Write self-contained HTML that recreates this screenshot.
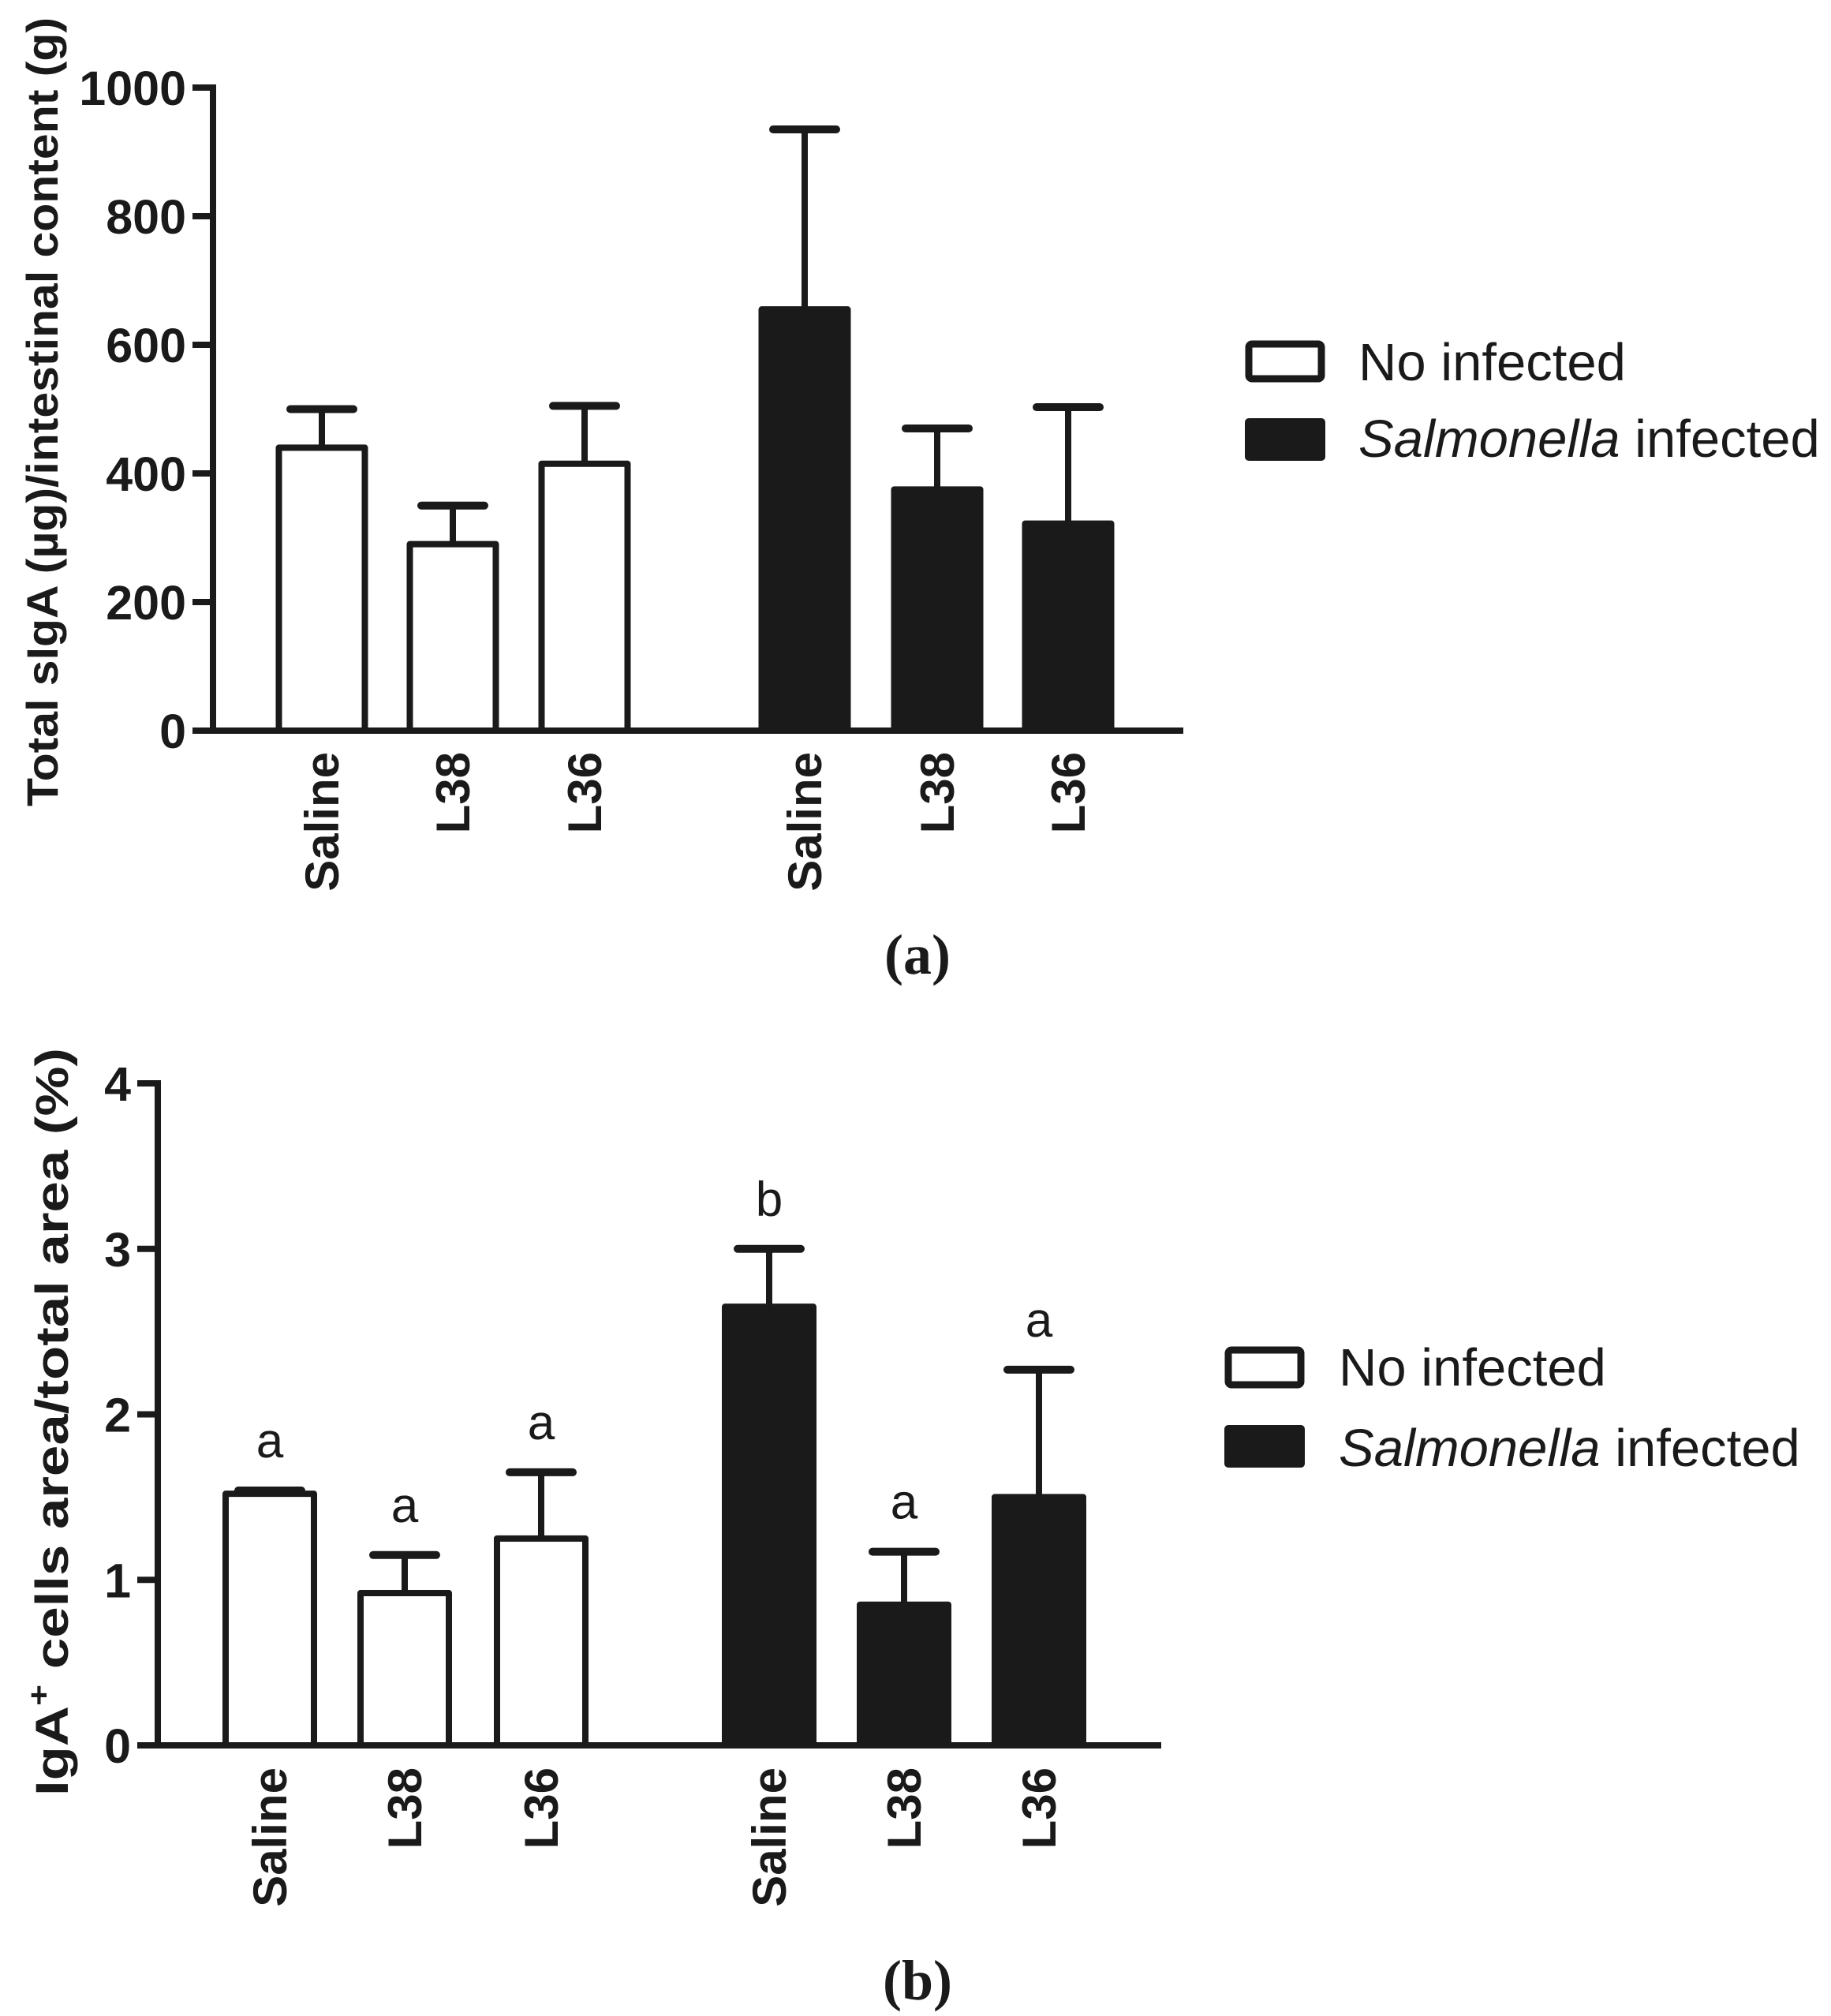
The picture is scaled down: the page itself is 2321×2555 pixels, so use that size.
<!DOCTYPE html>
<html><head><meta charset="utf-8"><style>
html,body{margin:0;padding:0;background:#fff;}
svg{display:block;}
text{fill:#1a1a1a;}
</style></head><body>
<svg id="fig" width="2321" height="2555" viewBox="0 0 2321 2555" xmlns="http://www.w3.org/2000/svg">
<g id="chartA"></g>
<g id="chartB"></g>
</svg>
<script>
const categories = ["Saline","L38","L36","Saline","L38","L36"];
const groups = ["no","no","no","inf","inf","inf"];
const valuesA = [440, 290, 415, 655, 375, 322];
const errTopA = [500, 350, 505, 935, 470, 503];
const ticksA = [0, 200, 400, 600, 800, 1000];
const valuesB = [1.52, 0.92, 1.25, 2.65, 0.85, 1.50];
const errTopB = [1.54, 1.15, 1.65, 3.00, 1.17, 2.27];
const lettersB = ["a","a","a","b","a","a"];
const ticksB = [0, 1, 2, 3, 4];

const NS = "http://www.w3.org/2000/svg";
function mk(parent, tag, attrs, txt){
  const e = document.createElementNS(NS, tag);
  for (const k in attrs) e.setAttribute(k, attrs[k]);
  if (txt !== undefined) e.textContent = txt;
  parent.appendChild(e);
  return e;
}

function drawChart(g, cfg){
  const y = v => cfg.y0 + (cfg.y1 - cfg.y0) * (v - cfg.vmin) / (cfg.vmax - cfg.vmin);
  const lw = 8;
  cfg.values.forEach((v, i) => {
    const cx = cfg.centers[i];
    const filled = groups[i] === "inf";
    const eb = mk(g, "line", {x1:cx, x2:cx, y1:y(v), y2:y(cfg.err[i]), stroke:"#1a1a1a", "stroke-width":lw});
    
    
    const cap = mk(g, "line", {x1:cx-40, x2:cx+40, y1:y(cfg.err[i]), y2:y(cfg.err[i]), stroke:"#1a1a1a", "stroke-width":lw+2, "stroke-linecap":"round"});
    
    
    const half = cfg.bw/2 - lw/2;
    const r = mk(g, "rect", {x:cx-half, y:y(v), width:half*2, height:y(0)-y(v), fill: filled ? "#1a1a1a" : "#fff", stroke:"#1a1a1a", "stroke-width":lw, "stroke-linejoin":"round"});
    
    
    const t = mk(g, "text", {x:0, y:0, transform:`translate(${cx+21},${cfg.labTop}) rotate(-90)`, "text-anchor":"end", "font-family":"Liberation Sans, sans-serif", "font-weight":"bold", "font-size":60}, categories[i]);
    
    
    if (cfg.letters){
      const lt = mk(g, "text", {x:cx, y:y(cfg.err[i]) - 42, "text-anchor":"middle", "font-family":"Liberation Sans, sans-serif", "font-size":62}, cfg.letters[i]);
      
      
    }
  });
  const ya = mk(g, "line", {x1:cfg.ax, x2:cfg.ax, y1:y(cfg.vmax)-4, y2:y(0)+4, stroke:"#1a1a1a", "stroke-width":lw});
  
  
  const xa = mk(g, "line", {x1:cfg.ax, x2:cfg.xend, y1:y(0), y2:y(0), stroke:"#1a1a1a", "stroke-width":lw});
  
  
  cfg.ticks.forEach(tv => {
    const tk = mk(g, "line", {x1:cfg.ax-26, x2:cfg.ax, y1:y(tv), y2:y(tv), stroke:"#1a1a1a", "stroke-width":lw});
    
    
    const tl = mk(g, "text", {x:cfg.ax-34, y:y(tv)+22, "text-anchor":"end", "font-family":"Liberation Sans, sans-serif", "font-weight":"bold", "font-size":61}, String(tv));
    
    
  });
}

const gA = document.getElementById("chartA");
drawChart(gA, {y0:926, y1:111, vmin:0, vmax:1000, ax:270, xend:1500, bw:117,
  centers:[408,574,741,1020,1188,1354], values:valuesA, err:errTopA, ticks:ticksA, labTop:953});
const gB = document.getElementById("chartB");
drawChart(gB, {y0:2212, y1:1373, vmin:0, vmax:4, ax:200, xend:1472, bw:120,
  centers:[342,513,686,975,1146,1317], values:valuesB, err:errTopB, ticks:ticksB, labTop:2240, letters:lettersB});
</script>
<svg style="position:absolute;left:0;top:0" width="2321" height="2555" xmlns="http://www.w3.org/2000/svg">
  <text transform="translate(73,1022) rotate(-90)" font-family="Liberation Sans, sans-serif" font-weight="bold" font-size="56" textLength="1000" lengthAdjust="spacingAndGlyphs">Total sIgA (µg)/intestinal content (g)</text>
  <text transform="translate(86,2276) rotate(-90)" font-family="Liberation Sans, sans-serif" font-weight="bold" font-size="58" textLength="948" lengthAdjust="spacingAndGlyphs">IgA<tspan dy="-24" font-size="38">+</tspan><tspan dy="24"> cells area/total area (%)</tspan></text>
  <text x="1163" y="1234" text-anchor="middle" font-family="Liberation Serif, serif" font-weight="bold" font-size="72">(a)</text>
  <text x="1163" y="2534" text-anchor="middle" font-family="Liberation Serif, serif" font-weight="bold" font-size="72">(b)</text>
  <g>
    <rect x="1583" y="436" width="92" height="44" rx="4" fill="#fff" stroke="#1a1a1a" stroke-width="9"/>
    <text x="1722" y="482" font-family="Liberation Sans, sans-serif" font-size="67">No infected</text>
    <rect x="1578" y="530" width="102" height="54" rx="5" fill="#1a1a1a"/>
    <text x="1722" y="579" font-family="Liberation Sans, sans-serif" font-size="67"><tspan font-style="italic">Salmonella</tspan> infected</text>
  </g>
  <g>
    <rect x="1557" y="1711" width="92" height="44" rx="4" fill="#fff" stroke="#1a1a1a" stroke-width="9"/>
    <text x="1697" y="1756" font-family="Liberation Sans, sans-serif" font-size="67">No infected</text>
    <rect x="1552" y="1806" width="102" height="54" rx="5" fill="#1a1a1a"/>
    <text x="1697" y="1858" font-family="Liberation Sans, sans-serif" font-size="67"><tspan font-style="italic">Salmonella</tspan> infected</text>
  </g>
</svg>
</body></html>
